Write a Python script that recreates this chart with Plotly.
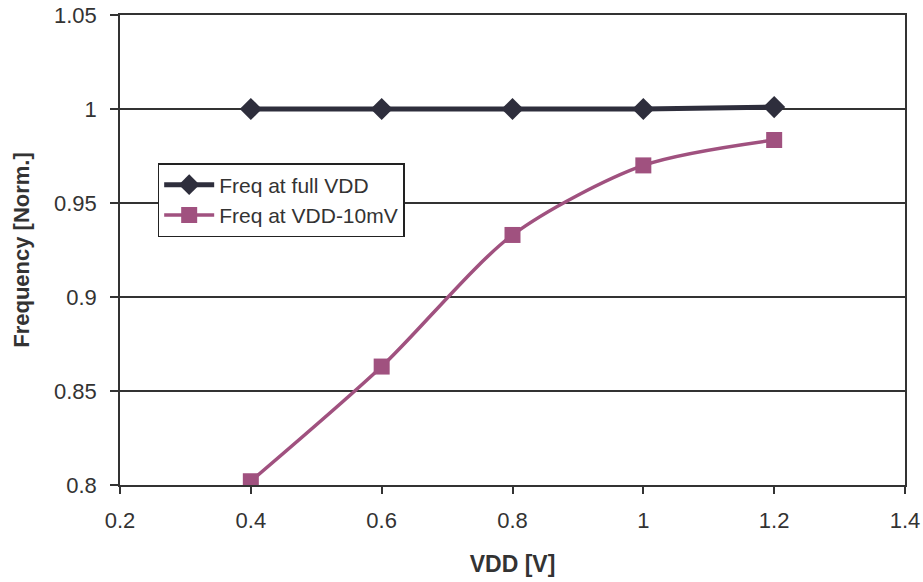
import plotly.graph_objects as go

# Supply voltage sweep points
vdd = [0.4, 0.6, 0.8, 1.0, 1.2]
# Normalised frequency at full supply and with a 10 mV droop
freq_full = [1.0, 1.0, 1.0, 1.0, 1.001]
freq_droop = [0.802, 0.863, 0.933, 0.970, 0.9835]

x_ticks = [0.2, 0.4, 0.6, 0.8, 1.0, 1.2, 1.4]
y_ticks = [0.8, 0.85, 0.9, 0.95, 1.0, 1.05]

font_family = "Liberation Sans, Arial, sans-serif"
text_color = "#333333"

fig = go.Figure()
fig.add_trace(go.Scatter(
    x=vdd, y=freq_full, name="Freq at full VDD", mode="lines+markers",
    line=dict(color="#2e2e3c", width=5),
    marker=dict(symbol="diamond", size=17, color="#2e2e3c"),
))
fig.add_trace(go.Scatter(
    x=vdd, y=freq_droop, name="Freq at VDD-10mV", mode="lines+markers",
    line=dict(color="#a0517f", width=3.5, shape="spline", smoothing=0.8),
    marker=dict(symbol="square", size=16, color="#a0517f"),
))

fig.update_layout(
    width=923, height=582,
    margin=dict(l=120, r=18, t=15, b=97, autoexpand=False),
    paper_bgcolor="white", plot_bgcolor="white",
    font=dict(family=font_family, size=22, color=text_color),
    showlegend=True,
    legend=dict(
        x=0.048, y=0.685, xanchor="left", yanchor="top",
        bgcolor="white", bordercolor="#222222", borderwidth=1.5,
        font=dict(family=font_family, size=21, color=text_color),
        tracegroupgap=0, itemwidth=50,
    ),
)
fig.update_xaxes(
    range=[0.2, 1.4], tickvals=x_ticks, automargin=False,
    tickfont=dict(family=font_family, size=22, color=text_color),
    ticklabelstandoff=8,
    showgrid=False, zeroline=False,
    showline=True, linecolor="#333333", linewidth=1.5, mirror=True,
    ticks="outside", ticklen=7, tickcolor="#333333", tickwidth=1.5,
    title=dict(text="<b>VDD [V]</b>",
               font=dict(family=font_family, size=23, color=text_color),
               standoff=24),
)
fig.update_yaxes(
    range=[0.8, 1.05], tickvals=y_ticks, automargin=False,
    tickfont=dict(family=font_family, size=22, color=text_color),
    ticklabelstandoff=9,
    showgrid=True, gridcolor="#333333", gridwidth=1.5, zeroline=False,
    showline=True, linecolor="#333333", linewidth=1.5, mirror=True,
    ticks="outside", ticklen=8, tickcolor="#333333", tickwidth=1.5,
    title=dict(text="<b>Frequency [Norm.]</b>",
               font=dict(family=font_family, size=22, color=text_color),
               standoff=18),
)

fig.write_html("out.html")
